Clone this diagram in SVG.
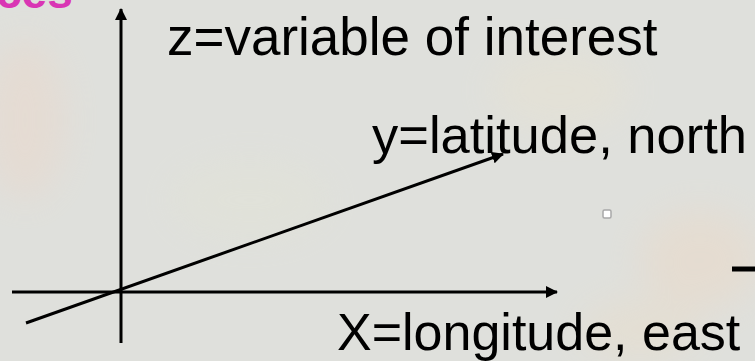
<svg xmlns="http://www.w3.org/2000/svg" width="755" height="361" viewBox="0 0 755 361">
  <style>
    .lbl { font-family: "Liberation Sans", Arial, sans-serif; font-size: 52px; fill: #000; }
    .ttl { font-family: "Liberation Sans", Arial, sans-serif; font-size: 46px; font-weight: bold; fill: #d936b4; }
    .axis { stroke: #000; stroke-width: 3; fill: none; }
  </style>
  <defs>
    <marker id="arr" viewBox="0 0 12 12" refX="11" refY="6" markerWidth="12" markerHeight="12" markerUnits="userSpaceOnUse" orient="auto">
      <path d="M0,0 L12,6 L0,12 Z" fill="#000"/>
    </marker>
    <filter id="blur" x="-50%" y="-50%" width="200%" height="200%">
      <feGaussianBlur stdDeviation="18"/>
    </filter>
  </defs>
  <rect width="755" height="361" fill="#dfe0dc"/>
  <g filter="url(#blur)" opacity="0.45">
    <ellipse cx="25" cy="120" rx="40" ry="80" fill="#ecd6c8"/>
    <ellipse cx="700" cy="260" rx="60" ry="50" fill="#ecd8c4"/>
    <ellipse cx="560" cy="90" rx="70" ry="40" fill="#e8e2d0"/>
    <ellipse cx="640" cy="330" rx="60" ry="30" fill="#e9dcc8"/>
    <ellipse cx="250" cy="200" rx="80" ry="40" fill="#e2e3d6"/>
  </g>
  <g id="title">
    <text class="ttl" x="-4" y="8">ces</text>
  </g>
  <g id="connectors">
    <line id="z-axis" class="axis" x1="121" y1="343" x2="121" y2="9" marker-end="url(#arr)"/>
    <line id="x-axis" class="axis" x1="12" y1="292" x2="557" y2="292" marker-end="url(#arr)"/>
    <line id="y-axis" class="axis" x1="26" y1="323" x2="503" y2="154" marker-end="url(#arr)"/>
  </g>
  <g id="z-label">
    <text class="lbl" x="167" y="55" style="font-size:53px">z=variable of interest</text>
  </g>
  <g id="y-label">
    <text class="lbl" x="372" y="153" style="font-size:52.5px">y=latitude, north</text>
  </g>
  <g id="x-label">
    <text class="lbl" x="337" y="350">X=longitude, east</text>
  </g>
  <g id="dash">
    <line x1="732" y1="269" x2="755" y2="269" stroke="#000" stroke-width="5"/>
  </g>
  <g id="handle">
    <rect x="603" y="210" width="8" height="8" rx="1.5" fill="#ffffff" stroke="#a8a8a8" stroke-width="1.5"/>
  </g>
</svg>
